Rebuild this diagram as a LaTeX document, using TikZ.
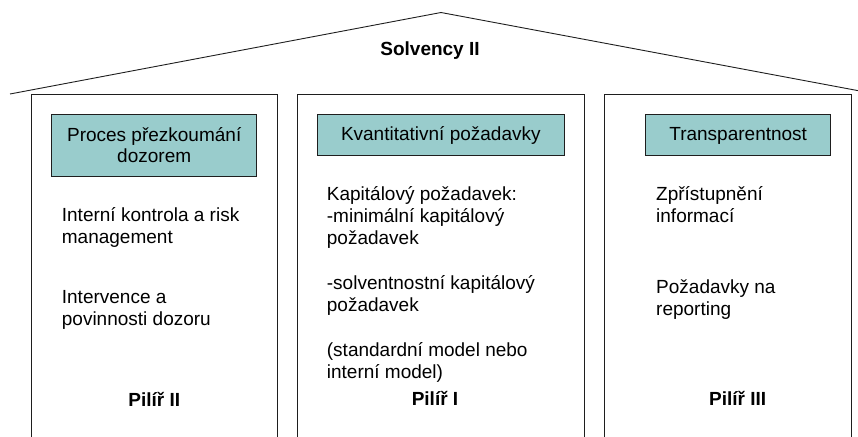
\documentclass[tikz,border=0pt]{standalone}
\usepackage{fontspec}
\setmainfont{Liberation Sans}
\definecolor{boxteal}{RGB}{153,204,204}
\definecolor{linegray}{RGB}{30,30,30}
\begin{document}
\begin{tikzpicture}[x=1pt,y=-1pt,
  txt/.style={anchor=base west,inner sep=0pt,font=\fontsize{19}{22}\selectfont},
  ctxt/.style={anchor=base,inner sep=0pt,font=\fontsize{19}{22}\selectfont},
  btxt/.style={anchor=base,inner sep=0pt,font=\fontsize{19}{22}\selectfont\bfseries},
  tealbox/.style={draw=linegray,fill=boxteal,line width=0.9pt,inner sep=0pt},
  wall/.style={draw=linegray,line width=0.9pt}]
\useasboundingbox (0,0) rectangle (858,436);
% roof
\draw[wall] (10,94) -- (441,12.5) -- (860,91);
\node[btxt] (title) at (430,56) {Solvency II};
% pillars
\draw[wall] (31.7,437) -- (31.7,94.3) -- (277,94.3) -- (277,437);
\draw[wall] (297.3,437) -- (297.3,94.3) -- (584,94.3) -- (584,437);
\draw[wall] (604,437) -- (604,94.3) -- (851.3,94.3) -- (851.3,437);
% teal boxes
\node[tealbox,minimum width=205pt,minimum height=62.7pt] (b1) at (154.2,145.35) {};
\node[tealbox,minimum width=247pt,minimum height=41.7pt] (b2) at (440.8,134.85) {};
\node[tealbox,minimum width=185pt,minimum height=41.7pt] (b3) at (738.2,134.85) {};
\node[ctxt] (b1a) at (154.2,141) {Proces přezkoumání};
\node[ctxt] (b1b) at (154.2,162) {dozorem};
\node[ctxt] (b2a) at (440.8,140) {Kvantitativní požadavky};
\node[ctxt] (b3a) at (738.2,140) {Transparentnost};
% pillar II
\node[txt] (p1a) at (61.7,221) {Interní kontrola a risk};
\node[txt] (p1b) at (61.7,243) {management};
\node[txt] (p1c) at (61.7,303.3) {Intervence a};
\node[txt] (p1d) at (61.7,325.5) {povinnosti dozoru};
\node[btxt] (pil2) at (154.3,406) {Pilíř II};
% pillar I
\node[txt] (p2a) at (326.7,200) {Kapitálový požadavek:};
\node[txt] (p2b) at (326.7,222) {-minimální kapitálový};
\node[txt] (p2c) at (326.7,244) {požadavek};
\node[txt] (p2d) at (326.7,289) {-solventnostní kapitálový};
\node[txt] (p2e) at (326.7,311) {požadavek};
\node[txt] (p2f) at (326.7,356) {(standardní model nebo};
\node[txt] (p2g) at (326.7,378) {interní model)};
\node[btxt] (pil1) at (435,405) {Pilíř I};
% pillar III
\node[txt] (p3a) at (656,200) {Zpřístupnění};
\node[txt] (p3b) at (656,222) {informací};
\node[txt] (p3c) at (656,293.5) {Požadavky na};
\node[txt] (p3d) at (656,315.5) {reporting};
\node[btxt] (pil3) at (737.7,405) {Pilíř III};
\end{tikzpicture}
\end{document}
